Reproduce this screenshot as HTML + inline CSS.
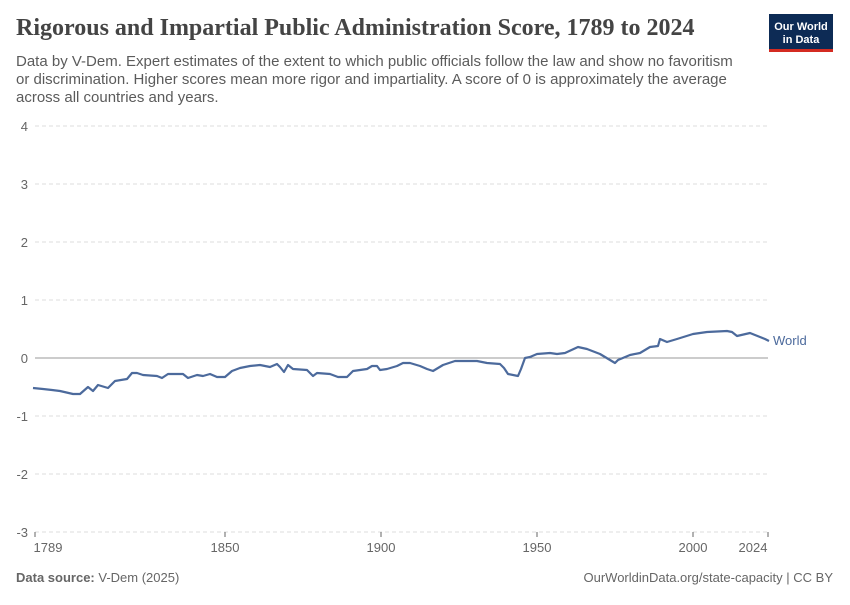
<!DOCTYPE html>
<html><head><meta charset="utf-8"><style>
body{margin:0;background:#fff;width:850px;height:600px;overflow:hidden;font-family:"Liberation Sans",sans-serif}
</style></head><body>
<svg width="850" height="600" xmlns="http://www.w3.org/2000/svg" font-family="Liberation Sans, sans-serif">
<text x="16" y="35" font-family="Liberation Serif, serif" font-size="24" font-weight="bold" fill="#444">Rigorous and Impartial Public Administration Score, 1789 to 2024</text>
<text font-size="15" fill="#5b5b5b"><tspan x="16" y="66">Data by V-Dem. Expert estimates of the extent to which public officials follow the law and show no favoritism</tspan><tspan x="16" y="84">or discrimination. Higher scores mean more rigor and impartiality. A score of 0 is approximately the average</tspan><tspan x="16" y="102">across all countries and years.</tspan></text>
<rect x="769" y="14" width="64" height="36" fill="#0d2b55"/>
<rect x="769" y="49" width="64" height="3" fill="#d42b21"/>
<text x="801" y="30" font-size="11" fill="#fff" text-anchor="middle" font-weight="bold">Our World</text>
<text x="801" y="43" font-size="11" fill="#fff" text-anchor="middle" font-weight="bold">in Data</text>
<g stroke="#ddd" stroke-dasharray="4,3">
<line x1="35" x2="768" y1="126" y2="126"/><line x1="35" x2="768" y1="184" y2="184"/><line x1="35" x2="768" y1="242" y2="242"/><line x1="35" x2="768" y1="300" y2="300"/><line x1="35" x2="768" y1="416" y2="416"/><line x1="35" x2="768" y1="474" y2="474"/><line x1="35" x2="768" y1="532" y2="532"/>
</g>
<line x1="35" x2="768" y1="358" y2="358" stroke="#999"/>
<g font-size="13" fill="#666" text-anchor="end">
<text x="28" y="131">4</text><text x="28" y="189">3</text><text x="28" y="247">2</text><text x="28" y="305">1</text><text x="28" y="363">0</text><text x="28" y="421">-1</text><text x="28" y="479">-2</text><text x="28" y="537">-3</text>
</g>
<g stroke="#666"><line x1="35" x2="35" y1="532" y2="537"/><line x1="225" x2="225" y1="532" y2="537"/><line x1="381" x2="381" y1="532" y2="537"/><line x1="537" x2="537" y1="532" y2="537"/><line x1="693" x2="693" y1="532" y2="537"/><line x1="768" x2="768" y1="532" y2="537"/></g>
<g font-size="13" fill="#666" text-anchor="middle">
<text x="48" y="552">1789</text><text x="225" y="552">1850</text><text x="381" y="552">1900</text><text x="537" y="552">1950</text><text x="693" y="552">2000</text><text x="753" y="552">2024</text>
</g>
<polyline fill="none" stroke="#4c6a9c" stroke-width="2.2" stroke-linejoin="round" points="33,388 43,389 52,390 60,391 73,394 80,394 88,387 93,391 98,385 108,388 115,381 127,379 132,373 137,373 143,375 157,376 162,378 168,374 183,374 188,378 197,375 203,376 210,374 217,377 225,377 232,371 240,368 250,366 260,365 270,367 277,364 280,367 284,372 288,365 293,369 307,370 313,376 317,373 330,374 338,377 347,377 353,371 367,369 372,366 377,366 380,370 387,369 397,366 403,363 410,363 420,366 427,369 433,371 443,365 455,361 477,361 487,363 500,364 504,368 508,374 518,376 521,369 525,358 530,357 537,354 550,353 557,354 565,353 578,347 587,349 600,354 615,363 618,360 630,355 640,353 650,347 658,346 660,339 667,342 677,339 693,334 707,332 727,331 732,332 737,336 750,333 760,337 765,339 769,341"/>
<text x="773" y="345" font-size="13" fill="#4c6a9c">World</text>
<text x="16" y="582" font-size="13" fill="#666"><tspan font-weight="bold">Data source:</tspan> V-Dem (2025)</text>
<text x="833" y="582" font-size="13" fill="#666" text-anchor="end">OurWorldinData.org/state-capacity | CC BY</text>
</svg>
</body></html>
